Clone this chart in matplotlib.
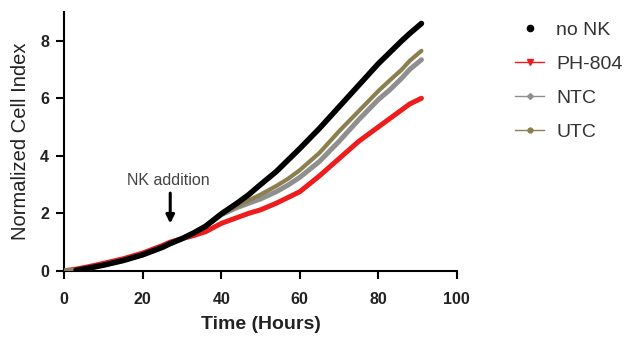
import matplotlib.pyplot as plt
from matplotlib.lines import Line2D

plt.rcParams['font.family'] = ['Liberation Sans', 'DejaVu Sans']

# time points (hours) and normalized cell index per condition
time = [0, 3, 6, 10, 15, 20, 25, 27, 30, 33, 36, 40, 44, 47, 50, 54, 57, 60, 65, 70, 75, 80, 83, 86, 88, 91]
no_nk = [0.0, 0.02, 0.09, 0.2, 0.36, 0.56, 0.82, 0.95, 1.12, 1.32, 1.55, 1.98, 2.35, 2.65, 3.0, 3.45, 3.85, 4.25,
         4.95, 5.7, 6.45, 7.2, 7.6, 8.0, 8.25, 8.6]
ph_804 = [0.0, 0.06, 0.14, 0.26, 0.42, 0.62, 0.88, 1.0, 1.12, 1.23, 1.36, 1.65, 1.85, 2.0, 2.12, 2.35, 2.55, 2.75,
          3.3, 3.9, 4.5, 5.0, 5.3, 5.6, 5.8, 6.0]
ntc = [0.0, 0.02, 0.09, 0.2, 0.36, 0.56, 0.82, 0.95, 1.12, 1.32, 1.55, 1.95, 2.2, 2.35, 2.5, 2.75, 2.98, 3.25,
       3.8, 4.5, 5.25, 5.95, 6.3, 6.7, 7.0, 7.34]
utc = [0.0, 0.02, 0.09, 0.2, 0.36, 0.56, 0.82, 0.95, 1.12, 1.32, 1.55, 1.97, 2.25, 2.45, 2.65, 2.95, 3.2, 3.5,
       4.1, 4.85, 5.55, 6.25, 6.63, 7.0, 7.3, 7.65]

labels = ['no NK', 'PH-804', 'NTC', 'UTC']
colors = ['#000000', '#ee1c1c', '#8f8f8f', '#8c7f4f']

fig = plt.figure(figsize=(6.3, 3.42), dpi=100)
ax = fig.add_axes([0.102, 0.208, 0.623, 0.757])

ax.plot(time, ph_804, color=colors[1], lw=3.6, solid_capstyle='round', solid_joinstyle='round', zorder=2)
ax.plot(time, ntc, color=colors[2], lw=3.6, solid_capstyle='round', solid_joinstyle='round', zorder=3)
ax.plot(time, utc, color=colors[3], lw=3.0, solid_capstyle='round', solid_joinstyle='round', zorder=3)
ax.plot(time[1:], no_nk[1:], color=colors[0], lw=4, solid_capstyle='round', solid_joinstyle='round', zorder=4)

ax.set_xlim(0, 100)
ax.set_ylim(0, 9)
ax.set_xticks([0, 20, 40, 60, 80, 100])
ax.set_yticks([0, 2, 4, 6, 8])
for s in ['top', 'right']:
    ax.spines[s].set_visible(False)
for s in ['left', 'bottom']:
    ax.spines[s].set_linewidth(1.5)
ax.tick_params(width=1.5, length=6, labelsize=11.5)
ax.tick_params(axis='x', pad=9)
ax.tick_params(axis='y', pad=5)
for t in ax.get_xticklabels() + ax.get_yticklabels():
    t.set_fontweight('bold')
    t.set_color('#222222')

ax.set_xlabel('Time (Hours)', fontsize=14, fontweight='bold', color='#222222', labelpad=7)
ax.set_ylabel('Normalized Cell Index', fontsize=14.5, color='#222222', labelpad=7)

ax.annotate('', xy=(27, 1.55), xytext=(27, 2.8),
            arrowprops=dict(arrowstyle='-|>', color='black', lw=2.2, mutation_scale=12))
ax.text(26.5, 3.15, 'NK addition', ha='center', va='center', fontsize=11.5, color='#444444')

handles = [
    Line2D([], [], color=colors[0], marker='o', ls='none', markersize=4.5),
    Line2D([], [], color=colors[1], marker='v', lw=1, markersize=4),
    Line2D([], [], color=colors[2], marker='D', lw=1, markersize=3),
    Line2D([], [], color=colors[3], marker='o', lw=1, markersize=3.5),
]
leg = fig.legend(handles, labels, loc='upper left', bbox_to_anchor=(0.79, 0.99),
                 frameon=False, fontsize=14, handlelength=1.5, labelspacing=0.85,
                 handletextpad=0.6)
for t in leg.get_texts():
    t.set_color('#333333')

fig.savefig('out.png', dpi=100)
